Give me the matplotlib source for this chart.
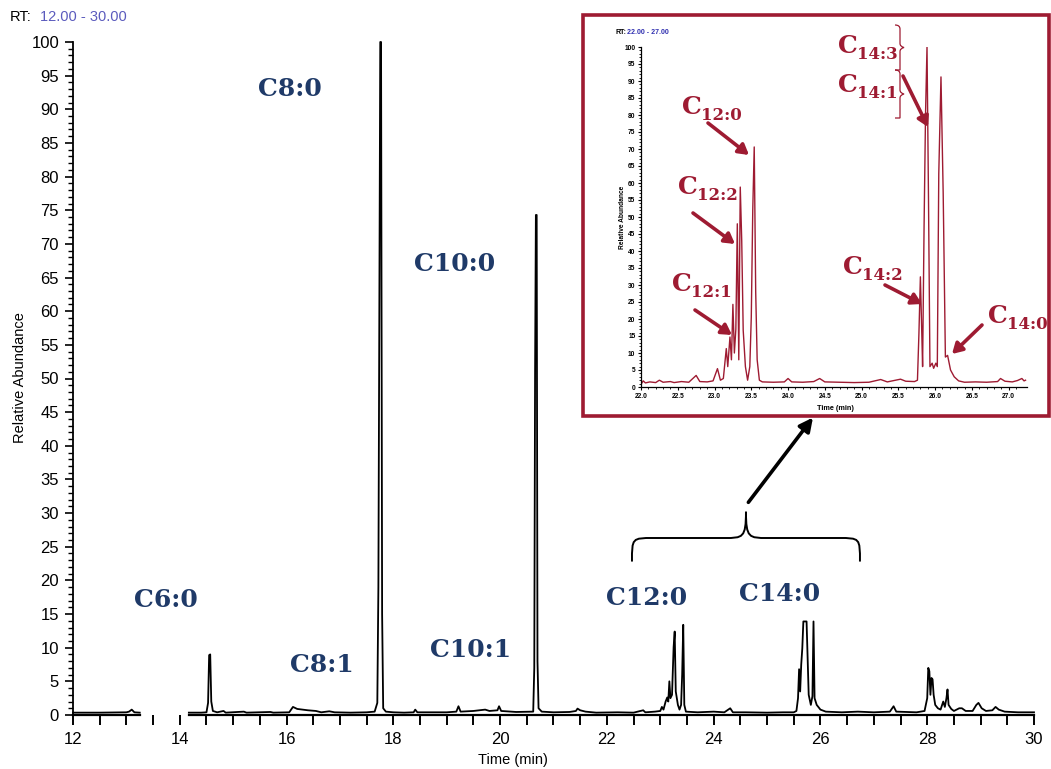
import numpy as np
import matplotlib
matplotlib.use('Agg')
import matplotlib.pyplot as plt
from matplotlib.path import Path
from matplotlib.patches import PathPatch, Rectangle

W, H = 1051, 769


def px(x, y):
    return (x / W, 1 - y / H)


# ---------------- data: main chromatogram ----------------
main_time = [12.0, 12.5, 13.0, 13.05, 13.1, 13.15, 13.25, np.nan,
             14.17, 14.4, 14.5, 14.53, 14.55, 14.57, 14.59, 14.62, 14.7, 14.82, 14.86,
             15.2, 15.25, 15.7, 15.75, 16.05, 16.12, 16.2, 16.3, 16.4, 16.55, 16.65,
             16.8, 16.9, 17.2, 17.5, 17.65, 17.7, 17.72, 17.74, 17.755, 17.77, 17.79,
             17.81, 17.86, 18.0, 18.2, 18.38, 18.41, 18.45, 18.8, 19.0, 19.18, 19.22,
             19.26, 19.5, 19.72, 19.8, 19.95, 19.98, 20.02, 20.3, 20.6, 20.62, 20.64,
             20.655, 20.67, 20.685, 20.70, 20.72, 20.78, 21.0, 21.3, 21.42, 21.45,
             21.5, 21.6, 21.8, 22.2, 22.5, 22.68, 22.72, 22.9, 23.0, 23.03, 23.06,
             23.1, 23.13, 23.15, 23.17, 23.19, 23.22, 23.25, 23.27, 23.29, 23.33,
             23.36, 23.39, 23.41, 23.43, 23.45, 23.48, 23.7, 24.0, 24.2, 24.31,
             24.36, 24.6, 25.0, 25.3, 25.5, 25.55, 25.58, 25.6, 25.62, 25.64, 25.66,
             25.68, 25.7, 25.72, 25.74, 25.76, 25.78, 25.82, 25.85, 25.87, 25.89,
             25.93, 26.0, 26.1, 26.4, 26.7, 27.0, 27.3, 27.37, 27.42, 27.8, 27.95,
             28.0, 28.02, 28.04, 28.06, 28.08, 28.1, 28.12, 28.15, 28.2, 28.25,
             28.3, 28.33, 28.36, 28.38, 28.4, 28.45, 28.5, 28.6, 28.65, 28.72,
             28.85, 28.92, 28.96, 29.02, 29.1, 29.22, 29.28, 29.34, 29.45, 29.7, 30.0]
main_abund = [0.35, 0.35, 0.4, 0.5, 0.8, 0.4, 0.35, np.nan,
              0.35, 0.35, 0.4, 1.8, 8.9, 9.0, 2.0, 0.6, 0.4, 0.6, 0.35,
              0.5, 0.35, 0.45, 0.35, 0.4, 1.2, 0.9, 0.8, 0.7, 0.6, 0.4,
              0.55, 0.4, 0.35, 0.4, 0.5, 1.8, 19.0, 68.0, 100.0, 100.0, 15.0,
              1.0, 0.5, 0.4, 0.35, 0.4, 0.8, 0.4, 0.4, 0.4, 0.5, 1.3,
              0.5, 0.6, 0.8, 0.6, 0.7, 1.3, 0.6, 0.45, 0.5, 0.5, 7.0,
              51.0, 74.3, 74.3, 8.0, 1.0, 0.5, 0.4, 0.45, 0.6, 0.95,
              0.7, 0.5, 0.35, 0.4, 0.35, 0.7, 0.4, 0.5, 0.6, 1.2, 0.8,
              2.0, 2.6, 2.0, 5.0, 2.5, 3.0, 10.1, 12.4, 3.5, 1.5,
              0.8, 1.5, 6.0, 13.4, 1.5, 0.5, 0.4, 0.5, 0.4, 1.0,
              0.4, 0.4, 0.35, 0.4, 0.4, 0.6, 2.5, 6.8, 3.5, 7.5, 9.9,
              13.9, 13.9, 13.9, 13.9, 8.5, 3.0, 1.5, 2.8, 13.9, 2.5,
              1.5, 0.8, 0.5, 0.4, 0.5, 0.4, 0.5, 1.3, 0.5, 0.4, 0.6,
              2.5, 7.0, 6.5, 3.0, 5.5, 5.3, 3.0, 1.5, 1.0, 0.8,
              2.0, 1.2, 2.5, 3.8, 1.5, 0.9, 0.6, 1.0, 1.0, 0.6,
              0.6, 1.5, 1.8, 1.0, 0.6, 0.7, 1.2, 0.8, 0.5, 0.4, 0.4]
axis_gap = (13.25, 14.17)

peak_names = ['C6:0', 'C8:0', 'C8:1', 'C10:0', 'C10:1', 'C12:0', 'C14:0']
peak_label_time = [13.74, 16.07, 16.67, 19.14, 19.44, 22.74, 25.23]
peak_label_abund = [17.1, 93.0, 7.4, 67.0, 9.7, 17.4, 18.0]

# ---------------- data: inset chromatogram ----------------
inset_time = [22.0, 22.03, 22.06, 22.12, 22.2, 22.25, 22.3, 22.4, 22.45, 22.55,
              22.65, 22.75, 22.8, 22.9, 22.98, 23.04, 23.08, 23.12, 23.16, 23.18,
              23.21, 23.23, 23.25, 23.27, 23.29, 23.31, 23.33, 23.35, 23.37, 23.39,
              23.42, 23.45, 23.48, 23.50, 23.52, 23.54, 23.56, 23.58, 23.61, 23.65,
              23.8, 23.95, 24.0, 24.05, 24.2, 24.35, 24.43, 24.5, 24.7, 24.9,
              25.1, 25.26, 25.35, 25.53, 25.6, 25.72, 25.76, 25.78, 25.80, 25.82,
              25.83, 25.85, 25.87, 25.89, 25.91, 25.93, 25.96, 25.98, 26.01, 26.03,
              26.05, 26.08, 26.11, 26.14, 26.17, 26.21, 26.26, 26.32, 26.4, 26.55,
              26.7, 26.85, 26.89, 26.95, 27.05, 27.12, 27.18, 27.21, 27.23]
inset_abund = [0.8, 1.8, 1.2, 1.5, 1.3, 2.0, 1.4, 1.6, 1.3, 1.6,
               1.4, 3.4, 1.6, 1.5, 1.8, 5.4, 2.0, 2.5, 11.3, 6.0,
               14.7, 8.0, 24.3, 10.0, 17.0, 48.0, 8.0, 58.8, 43.0, 16.7,
               6.0, 2.0, 6.0, 20.6, 52.0, 70.6, 28.0, 8.0, 2.0, 1.5,
               1.4, 1.5, 2.5, 1.5, 1.4, 1.6, 2.5, 1.5, 1.4, 1.3,
               1.4, 2.2, 1.5, 2.3, 1.7, 1.6, 2.0, 15.7, 32.4, 15.0,
               6.0, 47.0, 80.4, 100.0, 56.0, 6.0, 7.0, 5.5, 7.0, 6.0,
               62.7, 91.2, 57.0, 8.8, 9.3, 5.0, 3.0, 1.8, 1.4, 1.5,
               1.4, 1.6, 2.5, 1.7, 1.5, 1.9, 2.5, 1.8, 2.0]

inset_subscripts = ['12:0', '12:2', '12:1', '14:3', '14:1', '14:2', '14:0']

NAVY = '#1f3a68'
RED = '#9e1b32'
BLUE_TXT = '#5b5bbd'

plt.rcParams['font.family'] = ['Liberation Sans', 'DejaVu Sans']

fig = plt.figure(figsize=(W / 100, H / 100), dpi=100)
fig.patch.set_facecolor('white')

# ---------------- main axes ----------------
l, b = px(73, 715)
r, t = px(1034, 42)
ax = fig.add_axes([l, b, r - l, t - b])
ax.plot(main_time, main_abund, color='black', lw=1.3, clip_on=False, zorder=3)
ax.set_xlim(12, 30)
ax.set_ylim(0, 100)
for s in ['top', 'right', 'bottom']:
    ax.spines[s].set_visible(False)
ax.spines['left'].set_linewidth(1.3)
# broken bottom axis line
g0 = (axis_gap[0] - 12) / 18
g1 = (axis_gap[1] - 12) / 18
ax.axhline(0, 0, g0, color='black', lw=1.6, clip_on=False, zorder=2)
ax.axhline(0, g1, 1, color='black', lw=1.6, clip_on=False, zorder=2)

ax.set_yticks(np.arange(0, 101, 5))
ax.set_yticks(np.arange(0, 101, 1), minor=True)
ax.set_xticks(np.arange(12, 31, 2))
ax.set_xticks(np.arange(12, 30.01, 0.5), minor=True)
ax.tick_params(axis='y', which='major', length=6, width=1.2, labelsize=12, pad=4)
ax.tick_params(axis='y', which='minor', length=3.5, width=1.0)
ax.tick_params(axis='x', which='both', length=7, width=1.4, labelsize=12, pad=5)
ax.set_facecolor('none')

for name, tx, ty in zip(peak_names, peak_label_time, peak_label_abund):
    ax.text(tx, ty, name, ha='center', va='center', fontsize=18, fontweight='bold',
            family='DejaVu Serif', color=NAVY)

fig.text(*px(20, 378), 'Relative Abundance', rotation=90, ha='center', va='center', fontsize=10.5)
fig.text(*px(513, 760), 'Time (min)', ha='center', va='center', fontsize=10.5)
fig.text(*px(10, 17), 'RT:', ha='left', va='center', fontsize=10.5)
fig.text(*px(40, 17), '12.00 - 30.00', ha='left', va='center', fontsize=10.5, color=BLUE_TXT)


def brace_path(x0, x1, y_end, y_h, y_tip, rx):
    xm = (x0 + x1) / 2
    verts = [(x0, y_end),
             (x0, y_h), (x0, y_h), (x0 + rx, y_h),
             (xm - rx, y_h),
             (xm - rx * 0.15, y_h), (xm, y_h), (xm, y_tip),
             (xm, y_h), (xm + rx * 0.15, y_h), (xm + rx, y_h),
             (x1 - rx, y_h),
             (x1, y_h), (x1, y_h), (x1, y_end)]
    codes = [Path.MOVETO,
             Path.CURVE4, Path.CURVE4, Path.CURVE4,
             Path.LINETO,
             Path.CURVE4, Path.CURVE4, Path.CURVE4,
             Path.CURVE4, Path.CURVE4, Path.CURVE4,
             Path.LINETO,
             Path.CURVE4, Path.CURVE4, Path.CURVE4]
    return Path(verts, codes)


# big brace under the inset arrow (data coords)
ax.add_patch(PathPatch(brace_path(22.47, 26.74, 22.8, 26.3, 30.2, 0.4),
                       fill=False, lw=1.4, color='black', clip_on=False))
ax.annotate('', xy=(25.86, 44.2), xytext=(24.65, 31.6), xycoords='data',
            arrowprops=dict(arrowstyle='-|>,head_length=0.8,head_width=0.4', lw=2.6,
                            color='black', shrinkA=0, shrinkB=0), annotation_clip=False)

# ---------------- inset ----------------
rx0, ry0 = px(583, 416)
rx1, ry1 = px(1049, 15)
fig.patches.append(Rectangle((rx0, ry0), rx1 - rx0, ry1 - ry0, transform=fig.transFigure,
                             facecolor='white', edgecolor=RED, lw=2.6, zorder=5))

il, ib = px(641, 387)
ir, it = px(1027, 47)
iax = fig.add_axes([il, ib, ir - il, it - ib], zorder=6)
iax.set_facecolor('none')
iax.plot(inset_time, inset_abund, color=RED, lw=1.0)
iax.set_xlim(22.0, 27.25)
iax.set_ylim(0, 100)
for s in ['top', 'right']:
    iax.spines[s].set_visible(False)
for s in ['left', 'bottom']:
    iax.spines[s].set_linewidth(0.9)
iax.set_yticks(np.arange(0, 101, 5))
iax.set_yticks(np.arange(0, 101, 1), minor=True)
iax.set_xticks(np.arange(22.0, 27.01, 0.5))
iax.set_xticks(np.arange(22.0, 27.2, 0.1), minor=True)
iax.set_xticklabels([f'{v:.1f}' for v in np.arange(22.0, 27.01, 0.5)])
iax.tick_params(which='major', length=2.5, width=0.8, labelsize=4.8, pad=1.5)
iax.tick_params(which='minor', length=1.3, width=0.6)
for lab in iax.get_xticklabels() + iax.get_yticklabels():
    lab.set_fontweight('bold')
fig.text(*px(622, 217), 'Relative Abundance', rotation=90, ha='center', va='center',
         fontsize=4.8, fontweight='bold', zorder=7)
fig.text(*px(835, 408), 'Time (min)', ha='center', va='center', fontsize=5.2,
         fontweight='bold', zorder=7)
fig.text(*px(616, 33), 'RT:', ha='left', va='center', fontsize=5, fontweight='bold', zorder=7)
fig.text(*px(627, 33), '22.00 - 27.00', ha='left', va='center', fontsize=5,
         fontweight='bold', color='#3030b0', zorder=7)

# label left edge x and "C" centre y (figure pixels)
inset_label_px = [(682, 106.5), (678, 186.5), (672, 284), (838, 46), (838, 85), (843, 267.5),
                  (988, 316)]
inset_arrow_px = [((708, 123), (749, 155)), ((693, 213), (735, 244)), ((695, 310), (732, 335)),
                  ((903, 76), (928, 127)), ((885, 285), (922, 304)), ((982, 325), (952, 354))]
for sub, (x, y) in zip(inset_subscripts, inset_label_px):
    fig.text(*px(x, y), 'C', ha='left', va='center', fontsize=18, fontweight='bold',
             family='DejaVu Serif', color=RED, zorder=8)
    fig.text(*px(x + 19, y + 8.5), sub, ha='left', va='center', fontsize=12, fontweight='bold',
             family='DejaVu Serif', color=RED, zorder=8)
for (p0, p1) in inset_arrow_px:
    fig.add_artist(matplotlib.patches.FancyArrowPatch(
        px(*p0), px(*p1), transform=fig.transFigure,
        arrowstyle='-|>,head_length=6,head_width=3.5', lw=2.6, color=RED,
        shrinkA=0, shrinkB=0, zorder=8))

# small vertical braces beside C14:3 / C14:1 (figure pixel coords)
bx = 900
for (ytop, ybot) in [(25, 70), (70, 118)]:
    ymid = (ytop + ybot) / 2
    verts = [px(bx - 5, ytop), px(bx, ytop), px(bx, ytop + 4), px(bx, ytop + 8),
             px(bx, ymid - 4), px(bx, ymid - 1), px(bx + 4, ymid), px(bx, ymid + 1),
             px(bx, ymid + 4), px(bx, ybot - 8), px(bx, ybot - 4), px(bx, ybot), px(bx - 5, ybot)]
    codes = [Path.MOVETO, Path.CURVE3, Path.CURVE3, Path.LINETO,
             Path.LINETO, Path.CURVE3, Path.CURVE3, Path.CURVE3, Path.CURVE3,
             Path.LINETO, Path.CURVE3, Path.CURVE3, Path.LINETO]
    fig.add_artist(PathPatch(Path(verts, codes), transform=fig.transFigure, fill=False,
                             lw=0.9, color=RED, zorder=8))

fig.savefig('out.png', dpi=100)
